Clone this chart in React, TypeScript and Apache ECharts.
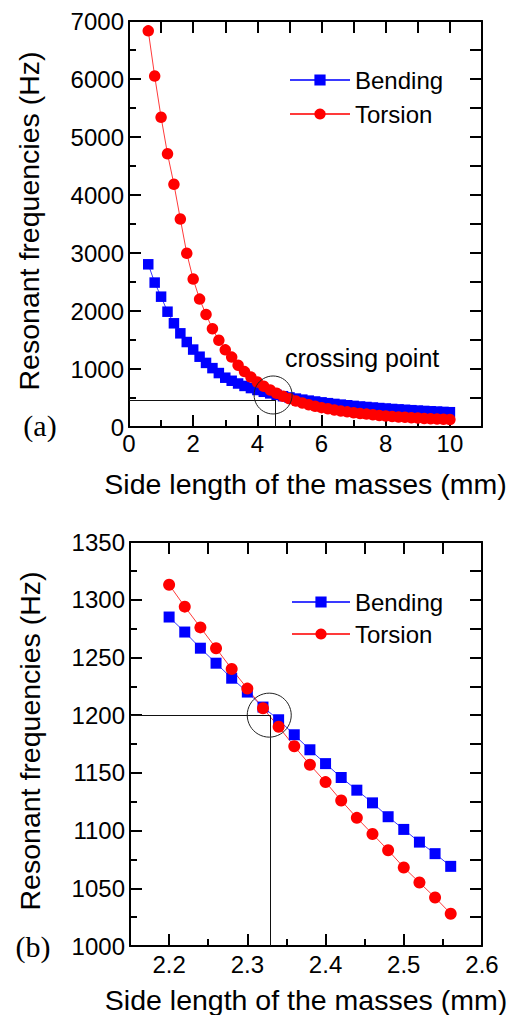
import React, { useEffect, useRef } from "react";
import * as echarts from "echarts";

// ---------- data (a) ----------
const sideLengthA = [
  0.6, 0.8, 1.0, 1.2, 1.4, 1.6, 1.8, 2.0, 2.2, 2.4, 2.6, 2.8, 3.0, 3.2, 3.4, 3.6,
  3.8, 4.0, 4.2, 4.4, 4.6, 4.8, 5.0, 5.2, 5.4, 5.6, 5.8, 6.0, 6.2, 6.4, 6.6, 6.8,
  7.0, 7.2, 7.4, 7.6, 7.8, 8.0, 8.2, 8.4, 8.6, 8.8, 9.0, 9.2, 9.4, 9.6, 9.8, 10.0,
];
const bendingA = [
  2805, 2490, 2247, 1988, 1788, 1615, 1465, 1335, 1212, 1105, 1015, 930, 850, 797, 750, 708,
  671, 638, 607, 580, 554, 531, 510, 490, 472, 455, 440, 425, 411, 398, 386, 375,
  364, 354, 345, 336, 327, 319, 311, 304, 297, 290, 283, 277, 271, 266, 260, 255,
];
const torsionA = [
  6830, 6050, 5340, 4710, 4185, 3585, 2995, 2550, 2205, 1940, 1695, 1495, 1330, 1205, 1065, 955,
  860, 775, 702, 638, 581, 531, 487, 448, 414, 384, 357, 334, 313, 294, 277, 261,
  247, 234, 222, 211, 200, 191, 182, 174, 167, 160, 154, 148, 143, 138, 133, 129,
];
const xRangeA = [0, 11];
const yRangeA = [0, 7000];
const xStepA = { label: 2, minor: 1, top: 1 };
const yStepA = { label: 1000, minor: 500, right: 500 };
const crossA = { x: 4.55, y: 466, cx: 4.49, cy: 552 };

// ---------- data (b) ----------
const sideLengthB = [
  2.2, 2.22, 2.24, 2.26, 2.28, 2.3, 2.32, 2.34, 2.36, 2.38, 2.4, 2.42, 2.44, 2.46, 2.48,
  2.5, 2.52, 2.54, 2.56,
];
const bendingB = [
  1285, 1272, 1258, 1245, 1232, 1220, 1207, 1196, 1183, 1170, 1158, 1146, 1135, 1124, 1112,
  1101, 1090, 1080, 1069,
];
const torsionB = [
  1313, 1294, 1276, 1258, 1240, 1223, 1206, 1190, 1173, 1157, 1142, 1126, 1111, 1097, 1083,
  1068, 1055, 1042, 1028,
];
const xRangeB = [2.15, 2.6];
const xLabelStartB = 2.2;
const yRangeB = [1000, 1350];
const xStepB = { label: 0.1, minor: 0.05, top: 0.05 };
const yStepB = { label: 50, minor: 25, right: 25 };
const crossB = { x: 2.329, y: 1200, cx: 2.328, cy: 1200 };

const FONT = "Liberation Sans, Arial, sans-serif";
const SERIF = "Liberation Serif, Times New Roman, serif";
const BLACK = "#000";

function makeAxis(o: {
  grid: number;
  position: string;
  min: number;
  max: number;
  interval: number;
  tickLen: number;
  line: boolean;
  labels?: boolean;
  margin?: number;
  fmt?: (v: number) => string;
}) {
  return {
    type: "value",
    gridIndex: o.grid,
    position: o.position,
    min: o.min,
    max: o.max,
    interval: o.interval,
    splitLine: { show: false },
    axisLine: { show: o.line, onZero: false, lineStyle: { color: BLACK, width: 2 } },
    axisTick: {
      show: true,
      inside: true,
      length: o.tickLen,
      lineStyle: { color: BLACK, width: 2 },
    },
    axisLabel: o.labels
      ? {
          show: true,
          margin: o.margin,
          color: BLACK,
          fontSize: 24,
          fontFamily: FONT,
          formatter: o.fmt,
        }
      : { show: false },
  };
}

export default function App() {
  const ref = useRef<HTMLDivElement>(null);
  useEffect(() => {
    if (!ref.current) return;
    const chart = echarts.init(ref.current, undefined, { renderer: "svg" });
    const pairs = (xs: number[], ys: number[]) => xs.map((x, i) => [x, ys[i]]);
    const xTitle = "Side length of the masses (mm)";
    const yTitle = "Resonant frequencies (Hz)";

    const gridA = { left: 129, top: 21, width: 353, height: 406 };
    const gridB = { left: 130, top: 542, width: 352, height: 404 };
    const spanB = xRangeB[1] - xRangeB[0];
    const offB = ((xLabelStartB - xRangeB[0]) / spanB) * gridB.width;
    const gridC = { left: gridB.left + offB, top: gridB.top, width: gridB.width - offB, height: gridB.height };

    const fmtA = (v: number) => (v > xRangeA[1] - 0.5 ? "" : String(Math.round(v)));
    const fmtInt = (v: number) => String(Math.round(v));
    const fmtB = (v: number) => v.toFixed(1);

    const crossMark = (c: any, xMin: number, yMin: number, size: number) => ({
      markLine: {
        silent: true,
        symbol: ["none", "none"],
        label: { show: false },
        lineStyle: { color: "#111", width: 1, type: "solid" },
        data: [
          [{ coord: [xMin, c.y] }, { coord: [c.x, c.y] }],
          [{ coord: [c.x, c.y] }, { coord: [c.x, yMin] }],
        ],
      },
      markPoint: {
        silent: true,
        symbol: "circle",
        symbolSize: size,
        label: { show: false },
        itemStyle: { color: "rgba(0,0,0,0)", borderColor: "#222", borderWidth: 1 },
        data: [{ coord: [c.cx, c.cy] }],
      },
    });

    const titleText = (text: string, x: number, y: number, vertical: boolean) => ({
      type: "text",
      x,
      y,
      rotation: vertical ? Math.PI / 2 : 0,
      style: {
        text,
        fill: BLACK,
        fontSize: 28.5,
        fontFamily: FONT,
        align: "center",
        verticalAlign: "middle",
      },
    });

    const option: any = {
      animation: false,
      grid: [gridA, gridB, gridC],
      xAxis: [
        makeAxis({ grid: 0, position: "bottom", min: xRangeA[0], max: xRangeA[1], interval: xStepA.label, tickLen: 12, line: true, labels: true, margin: 4, fmt: fmtA }),
        makeAxis({ grid: 0, position: "bottom", min: xRangeA[0], max: xRangeA[1], interval: xStepA.minor, tickLen: 7, line: false }),
        makeAxis({ grid: 0, position: "top", min: xRangeA[0], max: xRangeA[1], interval: xStepA.top, tickLen: 12, line: true }),
        makeAxis({ grid: 1, position: "bottom", min: xRangeB[0], max: xRangeB[1], interval: xStepB.minor, tickLen: 7, line: true }),
        makeAxis({ grid: 1, position: "top", min: xRangeB[0], max: xRangeB[1], interval: xStepB.top, tickLen: 12, line: true }),
        makeAxis({ grid: 2, position: "bottom", min: xLabelStartB, max: xRangeB[1], interval: xStepB.label, tickLen: 12, line: false, labels: true, margin: 6, fmt: fmtB }),
      ],
      yAxis: [
        makeAxis({ grid: 0, position: "left", min: yRangeA[0], max: yRangeA[1], interval: yStepA.label, tickLen: 12, line: true, labels: true, margin: 5, fmt: fmtInt }),
        makeAxis({ grid: 0, position: "left", min: yRangeA[0], max: yRangeA[1], interval: yStepA.minor, tickLen: 7, line: false }),
        makeAxis({ grid: 0, position: "right", min: yRangeA[0], max: yRangeA[1], interval: yStepA.right, tickLen: 12, line: true }),
        makeAxis({ grid: 1, position: "left", min: yRangeB[0], max: yRangeB[1], interval: yStepB.label, tickLen: 12, line: true, labels: true, margin: 5, fmt: fmtInt }),
        makeAxis({ grid: 1, position: "left", min: yRangeB[0], max: yRangeB[1], interval: yStepB.minor, tickLen: 7, line: false }),
        makeAxis({ grid: 1, position: "right", min: yRangeB[0], max: yRangeB[1], interval: yStepB.right, tickLen: 12, line: true }),
        { type: "value", gridIndex: 2, min: yRangeB[0], max: yRangeB[1], show: false },
      ],
      legend: [
        {
          orient: "vertical",
          left: 284,
          top: 63,
          itemWidth: 60,
          itemHeight: 14,
          itemGap: 10,
          selectedMode: false,
          textStyle: { color: BLACK, fontSize: 24, fontFamily: FONT },
          data: ["Bending", "Torsion"],
        },
        {
          orient: "vertical",
          left: 286,
          top: 585,
          itemWidth: 58,
          itemHeight: 14,
          itemGap: 8,
          selectedMode: false,
          textStyle: { color: BLACK, fontSize: 24, fontFamily: FONT },
          data: ["Bending", "Torsion"],
        },
      ],
      series: [
        {
          name: "Bending",
          type: "line",
          xAxisIndex: 0,
          yAxisIndex: 0,
          data: pairs(sideLengthA, bendingA),
          symbol: "rect",
          symbolSize: 10.5,
          itemStyle: { color: "#0000ff" },
          lineStyle: { color: "#3a3aff", width: 1 },
          ...crossMark(crossA, xRangeA[0], yRangeA[0], 38),
        },
        {
          name: "Torsion",
          type: "line",
          xAxisIndex: 0,
          yAxisIndex: 0,
          data: pairs(sideLengthA, torsionA),
          symbol: "circle",
          symbolSize: 11.5,
          itemStyle: { color: "#ff0000" },
          lineStyle: { color: "#ff3a3a", width: 1 },
        },
        {
          name: "Bending",
          type: "line",
          xAxisIndex: 3,
          yAxisIndex: 3,
          data: pairs(sideLengthB, bendingB),
          symbol: "rect",
          symbolSize: 11,
          itemStyle: { color: "#0000ff" },
          lineStyle: { color: "#3a3aff", width: 1 },
          ...crossMark(crossB, xRangeB[0], yRangeB[0], 44),
        },
        {
          name: "Torsion",
          type: "line",
          xAxisIndex: 3,
          yAxisIndex: 3,
          data: pairs(sideLengthB, torsionB),
          symbol: "circle",
          symbolSize: 12,
          itemStyle: { color: "#ff0000" },
          lineStyle: { color: "#ff3a3a", width: 1 },
        },
      ],
      graphic: [
        titleText(xTitle, gridA.left + gridA.width / 2, 484, false),
        titleText(xTitle, gridB.left + gridB.width / 2, 1000, false),
        titleText(yTitle, 29, gridA.top + gridA.height / 2 - 3, true),
        titleText(yTitle, 30, gridB.top + gridB.height / 2 - 3, true),
        {
          type: "text",
          left: 285,
          top: 345,
          style: { text: "crossing point", fill: BLACK, fontSize: 25, fontFamily: FONT },
        },
        {
          type: "text",
          x: 40,
          y: 425,
          style: { text: "(a)", fill: BLACK, fontSize: 30, fontFamily: SERIF, align: "center", verticalAlign: "middle" },
        },
        {
          type: "text",
          x: 33,
          y: 946,
          style: { text: "(b)", fill: BLACK, fontSize: 30, fontFamily: SERIF, align: "center", verticalAlign: "middle" },
        },
      ],
    };
    chart.setOption(option);
    return () => chart.dispose();
  }, []);
  return (
    <div
      ref={ref}
      style={{ position: "fixed", left: 0, top: 0, width: 513, height: 1015, background: "#fff" }}
    />
  );
}
